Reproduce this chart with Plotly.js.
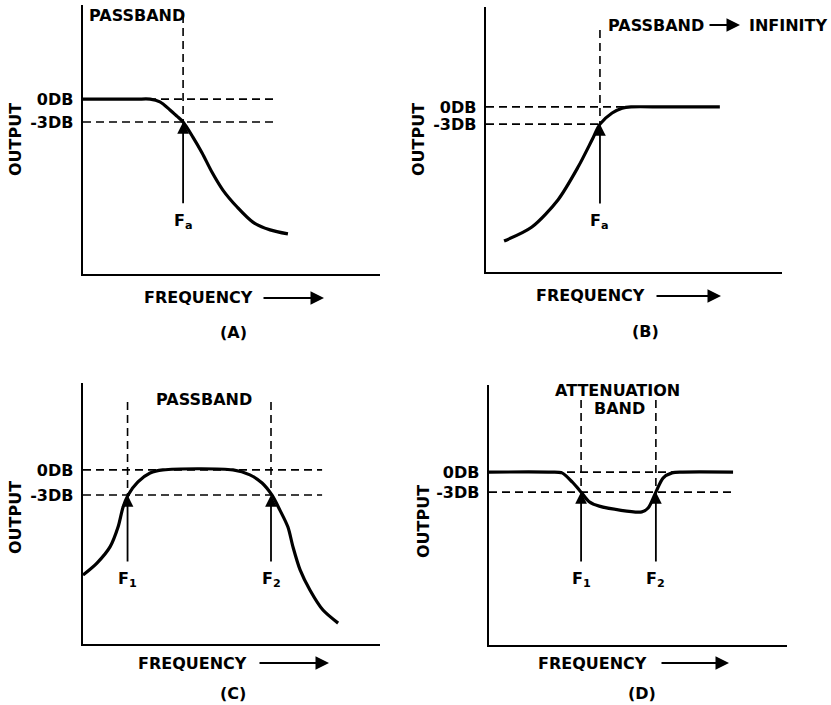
<!DOCTYPE html>
<html>
<head>
<meta charset="utf-8">
<script src="https://cdn.plot.ly/plotly-3.0.1.min.js"></script>
<style>html,body{margin:0;padding:0;background:#fff;}#chart{width:831px;height:705px;}</style>
</head>
<body>
<div id="chart"></div>
<script>
// ---------- DATA (normalised units, 0..100 along each axis) ----------
// Panel A : low-pass
const aCurveX = [0, 18, 22.6, 25.9, 29.3, 31.6, 33.7, 37, 40.1, 43.4, 47.1, 51.9, 57.2, 63, 69];
const aCurveY = [65, 65, 65, 64, 61, 58.7, 56.5, 50.9, 45, 37.9, 31.2, 24.9, 19.3, 16.4, 14.9];
const aLevels = [65, 56.5];          // 0DB, -3DB
const aCutoff = [33.7];              // Fa
const aDashEnd = [65.3, 65.3];
const aMarkerTop = 96.3;
const aArrowTail = 25.7;

// Panel B : high-pass
const bCurveX = [6.1, 15.5, 24.3, 31.1, 35.8, 38.5, 42.6, 46, 49, 60, 79];
const bCurveY = [11.7, 17, 27.2, 39.6, 49.8, 55.8, 60, 61.8, 62.3, 62.3, 62.3];
const bLevels = [62.3, 55.8];
const bCutoff = [38.5];
const bDashEnd = [48, 38.5];
const bMarkerTop = 91.3;
const bArrowTail = 25.3;

// Panel C : band-pass
const cCurveX = [0, 4.7, 9.1, 11.8, 13.5, 15.2, 18.5, 22.6, 26.9, 50.5, 56.2, 60.3, 63.6, 66.3, 69, 70.7, 73.1, 76.4, 80.8, 85.9];
const cCurveY = [26.4, 31, 37.2, 44.8, 52.5, 57.1, 62.1, 65.5, 66.7, 66.7, 64.8, 61.7, 57.1, 51.3, 44.8, 37.2, 28.4, 20.7, 13, 8];
const cLevels = [66.7, 57.1];
const cCutoff = [15, 63.3];          // F1, F2
const cDashEnd = [80.5, 80.5];
const cMarkerTop = 92.7;
const cArrowTail = 31;

// Panel D : band-stop
const dCurveX = [0, 20, 24.5, 27.9, 30.9, 33.5, 37, 51.3, 53.4, 56, 58.4, 61.4, 65, 81.9];
const dCurveY = [66.5, 66.5, 66.2, 62.7, 58.8, 55.2, 53.4, 51.2, 52.7, 58.8, 64.2, 66.2, 66.5, 66.5];
const dLevels = [66.5, 58.8];
const dCutoff = [30.9, 56];
const dDashEnd = [81.5, 81.5];
const dMarkerTop = 94.2;
const dArrowTail = 31.5;

const levelText = ['0DB', '-3DB'];
const cutoffA = ['F<sub>a</sub>'];
const cutoffBand = ['F<sub>1</sub>', 'F<sub>2</sub>'];

// ---------- BUILD ----------
const W = 831, H = 705;
const FONT = {family: 'DejaVu Sans', size: 16, color: '#000', weight: 'bold'};
const px = v => v / W;
const py = v => 1 - v / H;

const traces = [];
const annotations = [];

function panel(n, curveX, curveY, levels, cutoffs, dashEnd, markerTop, tail, labels) {
  const xa = n === 1 ? 'x' : 'x' + n;
  const ya = n === 1 ? 'y' : 'y' + n;
  levels.forEach((lv, i) => {
    traces.push({x: [0, dashEnd[i]], y: [lv, lv], xaxis: xa, yaxis: ya, mode: 'lines',
      line: {color: '#000', width: 1.6, dash: '8px,5px'}, hoverinfo: 'skip'});
  });
  cutoffs.forEach((f, i) => {
    traces.push({x: [f, f], y: [markerTop, levels[1]], xaxis: xa, yaxis: ya, mode: 'lines',
      line: {color: '#000', width: 1.6, dash: '8px,5px'}, hoverinfo: 'skip'});
    annotations.push({xref: xa, yref: ya, axref: xa, ayref: ya, x: f, y: levels[1], ax: f, ay: tail,
      text: '', showarrow: true, arrowhead: 2, arrowsize: 1.3, arrowwidth: 1.8, arrowcolor: '#000', standoff: 0});
    annotations.push({xref: xa, yref: ya, x: f, y: tail, yshift: -4, text: labels[i], showarrow: false,
      xanchor: 'center', yanchor: 'top', font: FONT});
  });
  traces.push({x: curveX, y: curveY, xaxis: xa, yaxis: ya, mode: 'lines',
    line: {color: '#000', width: 3.2, shape: 'spline', smoothing: 0.8}, hoverinfo: 'skip'});
}

panel(1, aCurveX, aCurveY, aLevels, aCutoff, aDashEnd, aMarkerTop, aArrowTail, cutoffA);
panel(2, bCurveX, bCurveY, bLevels, bCutoff, bDashEnd, bMarkerTop, bArrowTail, cutoffA);
panel(3, cCurveX, cCurveY, cLevels, cCutoff, cDashEnd, cMarkerTop, cArrowTail, cutoffBand);
panel(4, dCurveX, dCurveY, dLevels, dCutoff, dDashEnd, dMarkerTop, dArrowTail, cutoffBand);

function txt(x, y, text, opts) {
  annotations.push(Object.assign({xref: 'paper', yref: 'paper', x: px(x), y: py(y), text: text,
    showarrow: false, xanchor: 'center', yanchor: 'middle', font: FONT}, opts || {}));
}
function arrow(x0, x1, y) {
  annotations.push({xref: 'paper', yref: 'paper', x: px(x1), y: py(y), ax: -(x1 - x0), ay: 0,
    text: '', showarrow: true, arrowhead: 2, arrowsize: 1.5, arrowwidth: 1.8, arrowcolor: '#000', standoff: 0});
}

// Panel A texts
txt(87, 15, 'PASSBAND', {xanchor: 'left'});
txt(15, 140, 'OUTPUT', {textangle: -90});
txt(198, 298, 'FREQUENCY');
arrow(262, 324, 298);
txt(233, 332, '(A)');
// Panel B texts
txt(606, 25, 'PASSBAND', {xanchor: 'left'});
arrow(708, 740, 25);
txt(747, 25, 'INFINITY', {xanchor: 'left'});
txt(418, 140, 'OUTPUT', {textangle: -90});
txt(590, 296, 'FREQUENCY');
arrow(655, 721, 296);
txt(645, 331, '(B)');
// Panel C texts
txt(204, 399, 'PASSBAND');
txt(15, 518, 'OUTPUT', {textangle: -90});
txt(192, 663, 'FREQUENCY');
arrow(258, 329, 663);
txt(233, 693, '(C)');
// Panel D texts
txt(617, 390, 'ATTENUATION');
txt(619, 409, 'BAND');
txt(423, 522, 'OUTPUT', {textangle: -90});
txt(592, 663, 'FREQUENCY');
arrow(660, 729, 663);
txt(642, 693, '(D)');

function xaxis(x0, x1, anchor) {
  return {domain: [px(x0), px(x1)], anchor: anchor, range: [0, 100], showline: true, linecolor: '#000',
    linewidth: 2.4, showgrid: false, zeroline: false, ticks: '', showticklabels: false, fixedrange: true};
}
function yaxis(yBottom, yTop, anchor, levels) {
  return {domain: [py(yBottom), py(yTop)], anchor: anchor, range: [0, 100], showline: true, linecolor: '#000',
    linewidth: 2.4, showgrid: false, zeroline: false, ticks: '', tickvals: levels, ticktext: levelText,
    tickfont: FONT, ticklabelstandoff: 4, fixedrange: true};
}

const layout = {
  width: W, height: H,
  margin: {l: 0, r: 0, t: 0, b: 0},
  paper_bgcolor: '#fff', plot_bgcolor: '#fff',
  showlegend: false,
  xaxis: xaxis(83, 380, 'y'),   yaxis: yaxis(274, 5, 'x', aLevels),
  xaxis2: xaxis(486, 782, 'y2'), yaxis2: yaxis(272, 7, 'x2', bLevels),
  xaxis3: xaxis(83, 380, 'y3'), yaxis3: yaxis(644, 383, 'x3', cLevels),
  xaxis4: xaxis(489, 787, 'y4'), yaxis4: yaxis(645, 385, 'x4', dLevels),
  annotations: annotations
};

Plotly.newPlot('chart', traces, layout, {displayModeBar: false, staticPlot: true});
</script>
</body>
</html>
